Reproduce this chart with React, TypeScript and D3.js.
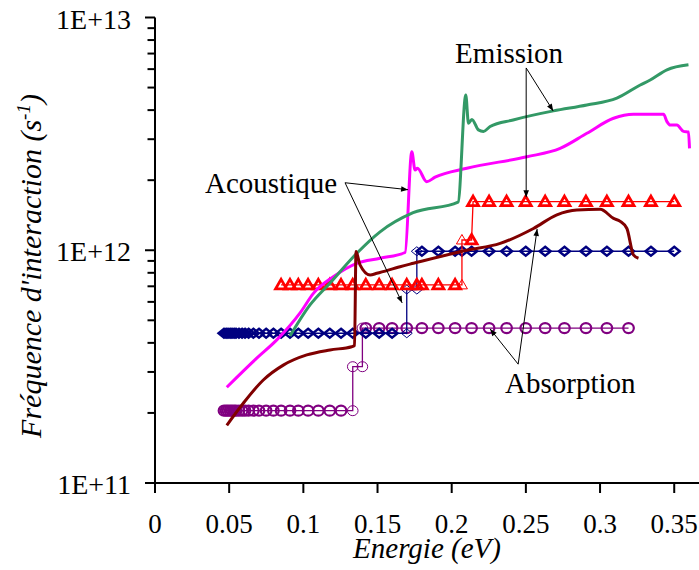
import React from 'react';
import * as d3 from 'd3';

const W = 699;
const H = 570;

// Axis ticks
const xTickValues = [0, 0.05, 0.1, 0.15, 0.2, 0.25, 0.3, 0.35];
const xTickLabels = ['0', '0.05', '0.1', '0.15', '0.2', '0.25', '0.3', '0.35'];
const yTickValues = [1e11, 1e12, 1e13];
const yTickLabels = ['1E+11', '1E+12', '1E+13'];

type P = [number, number];

// Smooth curves
const greenLine: P[] = [
  [0.091, 4.28e11], [0.1045, 5.82e11], [0.118, 7.23e11], [0.1362, 9.73e11], [0.1517, 1.2e12],
  [0.174, 1.45e12], [0.2043, 1.61e12], [0.2095, 4.64e12], [0.2113, 3.51e12], [0.2136, 3.65e12],
  [0.218, 3.29e12], [0.2214, 3.24e12], [0.2259, 3.4e12], [0.2414, 3.63e12], [0.2686, 3.97e12],
  [0.2911, 4.21e12], [0.3113, 4.5e12], [0.3271, 5.13e12], [0.3338, 5.39e12], [0.3451, 5.96e12],
  [0.3596, 6.26e12],
];

const magentaLine: P[] = [
  [0.0484, 2.58e11], [0.0686, 3.44e11], [0.0821, 4.12e11], [0.0978, 5.38e11], [0.1068, 6.53e11],
  [0.1202, 7.7e11], [0.136, 8.79e11], [0.1517, 9.24e11], [0.1686, 9.78e11], [0.1731, 2.65e12],
  [0.1753, 2.21e12], [0.1769, 2.25e12], [0.1832, 1.97e12], [0.1888, 2.06e12], [0.2102, 2.25e12],
  [0.2507, 2.52e12], [0.2731, 2.74e12], [0.2911, 3.18e12], [0.3091, 3.69e12], [0.3225, 3.84e12],
  [0.3428, 3.84e12], [0.3451, 3.57e12], [0.3473, 3.45e12], [0.3518, 3.45e12], [0.3563, 3.24e12],
  [0.3596, 3.22e12], [0.3603, 2.74e12],
];

const brownLine: P[] = [
  [0.0484, 1.77e11], [0.0595, 2.2e11], [0.073, 2.77e11], [0.0865, 3.21e11], [0.1023, 3.55e11],
  [0.118, 3.73e11], [0.1326, 3.85e11], [0.1345, 3.9e11], [0.1355, 9.87e11], [0.1382, 8.65e11],
  [0.145, 7.83e11], [0.1495, 7.96e11], [0.1652, 8.5e11], [0.1742, 8.79e11], [0.2102, 1.0e12],
  [0.2327, 1.07e12], [0.2551, 1.24e12], [0.2709, 1.42e12], [0.2844, 1.49e12], [0.3001, 1.5e12],
  [0.3091, 1.37e12], [0.3136, 1.33e12], [0.3181, 1.24e12], [0.3225, 9.55e11], [0.3259, 9.24e11],
];

// Marker series
const redTriangles: P[] = [
  [0.085, 7.1e11], [0.091, 7.1e11], [0.0966, 7.1e11], [0.1032, 7.1e11], [0.1101, 7.1e11],
  [0.1178, 7.1e11], [0.1254, 7.1e11], [0.1333, 7.1e11], [0.1421, 7.1e11], [0.1511, 7.1e11],
  [0.1598, 7.1e11], [0.1697, 7.1e11], [0.1765, 7.1e11], [0.1799, 7.1e11], [0.191, 7.1e11],
  [0.2023, 7.1e11], [0.2069, 7.1e11], [0.2069, 1.107e12], [0.2134, 1.107e12], [0.2144, 1.618e12],
  [0.2252, 1.618e12], [0.237, 1.618e12], [0.2499, 1.618e12], [0.263, 1.618e12], [0.276, 1.618e12],
  [0.2905, 1.618e12], [0.3046, 1.618e12], [0.3192, 1.618e12], [0.3343, 1.618e12], [0.35, 1.618e12],
];

const blueDiamonds: P[] = [
  [0.0465, 4.4e11], [0.0479, 4.4e11], [0.0492, 4.4e11], [0.0506, 4.4e11], [0.0519, 4.4e11],
  [0.0533, 4.4e11], [0.0546, 4.4e11], [0.0566, 4.4e11], [0.0587, 4.4e11], [0.0607, 4.4e11],
  [0.0631, 4.4e11], [0.0663, 4.4e11], [0.0701, 4.4e11], [0.0749, 4.4e11], [0.0798, 4.4e11],
  [0.085, 4.4e11], [0.091, 4.4e11], [0.0966, 4.4e11], [0.1032, 4.4e11], [0.1101, 4.4e11],
  [0.1178, 4.4e11], [0.1254, 4.4e11], [0.1333, 4.4e11], [0.1421, 4.4e11], [0.1511, 4.4e11],
  [0.1598, 4.4e11], [0.1697, 4.4e11], [0.1697, 6.78e11], [0.1765, 6.78e11], [0.1765, 9.9e11],
  [0.1799, 9.9e11], [0.191, 9.9e11], [0.2023, 9.9e11], [0.2069, 9.9e11], [0.2134, 9.9e11],
  [0.2252, 9.9e11], [0.237, 9.9e11], [0.2499, 9.9e11], [0.263, 9.9e11], [0.276, 9.9e11],
  [0.2905, 9.9e11], [0.3046, 9.9e11], [0.3192, 9.9e11], [0.3343, 9.9e11], [0.35, 9.9e11],
];

const purpleCircles: P[] = [
  [0.0465, 2.045e11], [0.0479, 2.045e11], [0.0492, 2.045e11], [0.0506, 2.045e11], [0.0519, 2.045e11],
  [0.0533, 2.045e11], [0.0546, 2.045e11], [0.0566, 2.045e11], [0.0587, 2.045e11], [0.0607, 2.045e11],
  [0.0631, 2.045e11], [0.0663, 2.045e11], [0.0701, 2.045e11], [0.0749, 2.045e11], [0.0798, 2.045e11],
  [0.085, 2.045e11], [0.091, 2.045e11], [0.0966, 2.045e11], [0.1032, 2.045e11], [0.1101, 2.045e11],
  [0.1178, 2.045e11], [0.1254, 2.045e11], [0.1333, 2.045e11], [0.1333, 3.16e11], [0.1398, 3.16e11],
  [0.1398, 4.63e11], [0.1421, 4.63e11], [0.1511, 4.63e11], [0.1598, 4.63e11], [0.1697, 4.63e11],
  [0.1799, 4.63e11], [0.191, 4.63e11], [0.2023, 4.63e11], [0.2134, 4.63e11], [0.2252, 4.63e11],
  [0.237, 4.63e11], [0.2499, 4.63e11], [0.263, 4.63e11], [0.276, 4.63e11], [0.2905, 4.63e11],
  [0.3046, 4.63e11], [0.3192, 4.63e11],
];

// Annotations (data coordinates)
const annotationLabels = [
  { text: 'Emission', at: [0.2023, 6.38e12] as P },
  { text: 'Acoustique', at: [0.0337, 1.76e12] as P },
  { text: 'Absorption', at: [0.236, 2.44e11] as P },
];
const annotationArrows: { from: P; to: P }[] = [
  { from: [0.2502, 6.07e12], to: [0.2684, 3.97e12] },
  { from: [0.2502, 6.07e12], to: [0.2502, 1.69e12] },
  { from: [0.1281, 1.95e12], to: [0.1706, 1.82e12] },
  { from: [0.1281, 1.95e12], to: [0.1666, 5.94e11] },
  { from: [0.2448, 3.24e11], to: [0.2259, 4.59e11] },
  { from: [0.2448, 3.24e11], to: [0.2576, 1.235e12] },
];

const FONT = "'Liberation Serif', 'Times New Roman', serif";

// a marker sitting on a vertical step of its series is drawn with a thin outline
const onStep = (arr: P[], i: number) =>
  (i > 0 && arr[i - 1][0] === arr[i][0]) || (i < arr.length - 1 && arr[i + 1][0] === arr[i][0]);

export default function App() {
  const x = d3.scaleLinear().domain([0, 0.3667]).range([155, 699]);
  const y = d3.scaleLog().domain([1e11, 1e13]).range([483, 17.5]);
  const line = d3.line<P>().x((d) => x(d[0])).y((d) => y(d[1]));
  const smooth = d3.line<P>().x((d) => x(d[0])).y((d) => y(d[1])).curve(d3.curveMonotoneX);

  const minorTicks = y.ticks().filter((v) => !yTickValues.some((t) => Math.abs(t - v) / t < 1e-6));

  const tri = (cx: number, cy: number) =>
    `M${cx},${cy - 5.5}L${cx + 5.5},${cy + 4}L${cx - 5.5},${cy + 4}Z`;
  const dia = (cx: number, cy: number) =>
    `M${cx},${cy - 4.5}L${cx + 5.5},${cy}L${cx},${cy + 4.5}L${cx - 5.5},${cy}Z`;

  return (
    <svg
      width={W}
      height={H}
      style={{ position: 'absolute', left: 0, top: 0, background: '#fff' }}
      fontFamily={FONT}
    >
      <defs>
        <marker id="ah" viewBox="0 0 10 10" refX="10" refY="5" markerWidth="9" markerHeight="7" orient="auto" markerUnits="userSpaceOnUse">
          <path d="M0,1L10,5L0,9Z" fill="#000" />
        </marker>
      </defs>
      <rect width={W} height={H} fill="#fff" />

      {/* purple circles series */}
      <path d={line(purpleCircles) || ''} fill="none" stroke="#800080" strokeWidth={1.3} />
      {purpleCircles.map((d, i) => (
        <ellipse key={'pc' + i} cx={x(d[0])} cy={y(d[1])} rx={5.3} ry={5} fill="none" stroke="#800080" strokeWidth={onStep(purpleCircles, i) ? 1 : 2.2} />
      ))}

      {/* blue diamonds series */}
      <path d={line(blueDiamonds) || ''} fill="none" stroke="#000080" strokeWidth={1.3} />
      {blueDiamonds.map((d, i) => (
        <path key={'bd' + i} d={dia(x(d[0]), y(d[1]))} fill="none" stroke="#000080" strokeWidth={onStep(blueDiamonds, i) ? 1 : 2.4} />
      ))}

      {/* red triangles series */}
      <path d={line(redTriangles) || ''} fill="none" stroke="#ff0000" strokeWidth={1.3} />
      {redTriangles.map((d, i) => (
        <path key={'rt' + i} d={tri(x(d[0]), y(d[1]))} fill="none" stroke="#ff0000" strokeWidth={onStep(redTriangles, i) ? 1 : 2.8} strokeLinejoin="miter" />
      ))}

      {/* smooth curves */}
      <path d={smooth(magentaLine) || ''} fill="none" stroke="#ff00ff" strokeWidth={3} strokeLinejoin="round" />
      <path d={smooth(greenLine) || ''} fill="none" stroke="#339966" strokeWidth={3} strokeLinejoin="round" />
      <path d={smooth(brownLine) || ''} fill="none" stroke="#800000" strokeWidth={3} strokeLinejoin="round" />

      {/* annotation arrows */}
      {annotationArrows.map((a, i) => (
        <line key={'ar' + i} x1={x(a.from[0])} y1={y(a.from[1])} x2={x(a.to[0])} y2={y(a.to[1])} stroke="#000" strokeWidth={1} markerEnd="url(#ah)" />
      ))}
      {annotationLabels.map((l, i) => (
        <text key={'al' + i} x={x(l.at[0])} y={y(l.at[1])} fontSize={29} fill="#000">
          {l.text}
        </text>
      ))}

      {/* axes */}
      <line x1={x(0)} y1={y(1e13)} x2={x(0)} y2={y(1e11) + 10} stroke="#000" strokeWidth={2} />
      <line x1={x(0) - 10} y1={y(1e11)} x2={699} y2={y(1e11)} stroke="#000" strokeWidth={2} />
      {yTickValues.map((v) => (
        <line key={'ymaj' + v} x1={x(0) - 10} x2={x(0)} y1={y(v)} y2={y(v)} stroke="#000" strokeWidth={2} />
      ))}
      {minorTicks.map((v) => (
        <line key={'ymin' + v} x1={x(0) - 7.5} x2={x(0)} y1={y(v)} y2={y(v)} stroke="#000" strokeWidth={2} />
      ))}
      {yTickValues.map((v, i) => (
        <text key={'ylab' + v} x={131} y={y(v) + 11} fontSize={28} textAnchor="end" fill="#000">
          {yTickLabels[i]}
        </text>
      ))}
      {xTickValues.map((v, i) => (
        <g key={'xt' + v}>
          <line x1={x(v)} x2={x(v)} y1={y(1e11)} y2={y(1e11) + 10} stroke="#000" strokeWidth={2} />
          <text x={x(v)} y={533} fontSize={27} textAnchor="middle" fill="#000">
            {xTickLabels[i]}
          </text>
        </g>
      ))}

      {/* axis titles */}
      <text x={427} y={558} fontSize={29} fontStyle="italic" textAnchor="middle" fill="#000">
        Energie (eV)
      </text>
      <text transform="translate(41,266) rotate(-90)" fontSize={30} fontStyle="italic" textAnchor="middle" fill="#000">
        Fréquence d'interaction (s<tspan fontSize={19} dy={-11}>-1</tspan><tspan dy={11}>)</tspan>
      </text>
    </svg>
  );
}
